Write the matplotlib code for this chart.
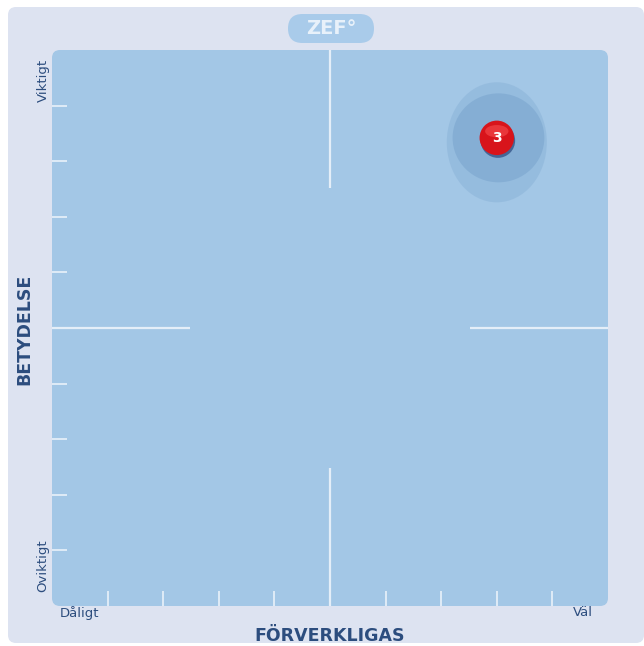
import matplotlib
matplotlib.use("Agg")
import matplotlib.pyplot as plt
from matplotlib.patches import FancyBboxPatch, Ellipse, Circle

# ---- data ----
point_labels = ["3"]
x_values = [8.0]
y_values = [8.42]
spread_circle_w = [1.65]
spread_circle_h = [1.6]
spread_ell_w = [1.8]
spread_ell_h = [2.16]
tick_positions = [1, 2, 3, 4, 6, 7, 8, 9]
x_low_label, x_high_label = "Dåligt", "Väl"
y_low_label, y_high_label = "Oviktigt", "Viktigt"
x_title = "FÖRVERKLIGAS"
y_title = "BETYDELSE"
brand = "ZEF°"

W, H = 644, 646
fig = plt.figure(figsize=(W / 100, H / 100), dpi=100)
fig.patch.set_facecolor("white")

# background decoration axes in pixel coordinates
bg = fig.add_axes([0, 0, 1, 1])
bg.set_xlim(0, W)
bg.set_ylim(H, 0)
bg.axis("off")
bg.add_patch(FancyBboxPatch((8, 7), W - 8, H - 7 - 3, boxstyle="round,pad=0,rounding_size=8",
                            fc="#dde3f1", ec="none"))
bg.add_patch(FancyBboxPatch((52, 50), 556, 556, boxstyle="round,pad=0,rounding_size=8",
                            fc="#a3c7e6", ec="none"))
bg.add_patch(FancyBboxPatch((288, 14), 86, 29, boxstyle="round,pad=0,rounding_size=14.5",
                            fc="#a9cbea", ec="none"))
bg.text(331, 29, brand, ha="center", va="center", color="#e8f1fa", fontsize=14, fontweight="bold")

navy = "#2c4d7e"
bg.text(24, 329, y_title, rotation=90, ha="center", va="center", color=navy,
        fontsize=12.5, fontweight="bold")
bg.text(330, 636, x_title, ha="center", va="center", color=navy, fontsize=12.5, fontweight="bold")
bg.text(43, 80, y_high_label, rotation=90, ha="center", va="center", color=navy, fontsize=9.5)
bg.text(43, 566, y_low_label, rotation=90, ha="center", va="center", color=navy, fontsize=9.5)
bg.text(80, 613, x_low_label, ha="center", va="center", color=navy, fontsize=9.5)
bg.text(583, 613, x_high_label, ha="center", va="center", color=navy, fontsize=9.5)

# data axes
ax = fig.add_axes([52 / W, (H - 606) / H, 556 / W, 556 / H])
ax.set_xlim(0, 10)
ax.set_ylim(0, 10)
ax.patch.set_alpha(0)
ax.axis("off")

line_c = "#e4eef8"
tick_len = 0.27
for t in tick_positions:
    ax.plot([0, tick_len], [t, t], color=line_c, lw=1.3, solid_capstyle="butt")
    ax.plot([t, t], [0, tick_len], color=line_c, lw=1.3, solid_capstyle="butt")
cross = 2.48
ax.plot([5, 5], [0, cross], color=line_c, lw=1.6, solid_capstyle="butt")
ax.plot([5, 5], [10 - cross, 10], color=line_c, lw=1.6, solid_capstyle="butt")
ax.plot([0, cross], [5, 5], color=line_c, lw=1.6, solid_capstyle="butt")
ax.plot([10 - cross, 10], [5, 5], color=line_c, lw=1.6, solid_capstyle="butt")

for lab, x, y, cw, ch, ew, eh in zip(point_labels, x_values, y_values, spread_circle_w,
                                     spread_circle_h, spread_ell_w, spread_ell_h):
    ax.add_patch(Ellipse((x, y - 0.08), ew, eh, fc="#6f9cc8", alpha=0.25, ec="none"))
    ax.add_patch(Ellipse((x + 0.03, y), cw, ch, fc="#6f9cc8", alpha=0.42, ec="none"))
    ax.add_patch(Circle((x + 0.02, y - 0.05), 0.31, fc="#3a5a8c", ec="none", alpha=0.85))
    ax.add_patch(Circle((x, y), 0.31, fc="#d8141b", ec="none"))
    ax.add_patch(Ellipse((x, y + 0.12), 0.42, 0.22, fc="#ff6060", ec="none", alpha=0.45))
    ax.text(x, y - 0.01, lab, ha="center", va="center", color="white", fontsize=10, fontweight="bold")

fig.savefig("out.png", dpi=100, facecolor=fig.get_facecolor())
